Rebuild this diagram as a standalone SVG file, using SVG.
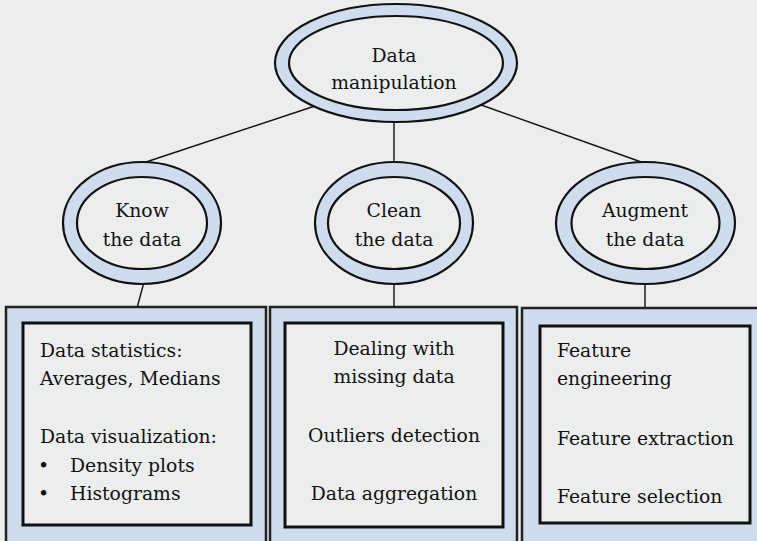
<svg xmlns="http://www.w3.org/2000/svg" width="757" height="541" viewBox="0 0 757 541">
<style>
.bg{fill:#eceeee}
.ring{fill:#cfdcee;stroke:#111;stroke-width:2.2}
.inner{fill:#eceeee;stroke:#111;stroke-width:2.2}
.outer{fill:#cfdcee;stroke:#222;stroke-width:2.5}
.box{fill:#eceeee;stroke:#111;stroke-width:3}
.conn{stroke:#111;stroke-width:1.4;fill:none}
text{font-family:"DejaVu Serif","Liberation Serif",serif;font-size:18.8px;fill:#111}
.c{text-anchor:middle}
</style>
<rect class="bg" x="0" y="0" width="757" height="541"/>
<g id="connectors">
<line class="conn" x1="143" y1="163" x2="330" y2="101"/>
<line class="conn" x1="394" y1="110" x2="394" y2="163"/>
<line class="conn" x1="644" y1="163" x2="470" y2="101"/>
<line class="conn" x1="144" y1="282" x2="137" y2="308"/>
<line class="conn" x1="394" y1="282" x2="394" y2="308"/>
<line class="conn" x1="645" y1="282" x2="645" y2="308"/>
</g>
<g id="root">
<ellipse class="ring" cx="396" cy="63" rx="121" ry="59"/>
<ellipse class="inner" cx="396" cy="63" rx="107" ry="47"/>
<text class="c" x="394" y="62">Data</text>
<text class="c" x="394" y="89">manipulation</text>
</g>
<g id="know">
<ellipse class="ring" cx="142" cy="223" rx="79" ry="61"/>
<ellipse class="inner" cx="142" cy="223" rx="65" ry="46"/>
<text class="c" x="142" y="217">Know</text>
<text class="c" x="142" y="246">the data</text>
</g>
<g id="clean">
<ellipse class="ring" cx="394" cy="223" rx="79" ry="61"/>
<ellipse class="inner" cx="394" cy="223" rx="66" ry="46"/>
<text class="c" x="394" y="217">Clean</text>
<text class="c" x="394" y="246">the data</text>
</g>
<g id="augment">
<ellipse class="ring" cx="645.5" cy="223" rx="89.5" ry="61"/>
<ellipse class="inner" cx="645.5" cy="223" rx="74" ry="46"/>
<text class="c" x="645" y="217">Augment</text>
<text class="c" x="645" y="246">the data</text>
</g>
<g id="box-know">
<rect class="outer" x="6" y="307" width="260" height="245"/>
<rect class="box" x="23" y="323" width="228" height="202"/>
<text x="40" y="357">Data statistics:</text>
<text x="40" y="385">Averages, Medians</text>
<text x="40" y="443">Data visualization:</text>
<text x="38" y="472">•</text>
<text x="70" y="472">Density plots</text>
<text x="38" y="500">•</text>
<text x="70" y="500">Histograms</text>
</g>
<g id="box-clean">
<rect class="outer" x="270" y="307" width="247" height="245"/>
<rect class="box" x="285" y="323" width="218" height="204"/>
<text class="c" x="394" y="355">Dealing with</text>
<text class="c" x="394" y="383">missing data</text>
<text class="c" x="394" y="442">Outliers detection</text>
<text class="c" x="394" y="500">Data aggregation</text>
</g>
<g id="box-augment">
<rect class="outer" x="522" y="308" width="245" height="245"/>
<rect class="box" x="540" y="326" width="210" height="197"/>
<text x="557" y="357">Feature</text>
<text x="557" y="385">engineering</text>
<text x="557" y="445">Feature extraction</text>
<text x="557" y="503">Feature selection</text>
</g>
</svg>
